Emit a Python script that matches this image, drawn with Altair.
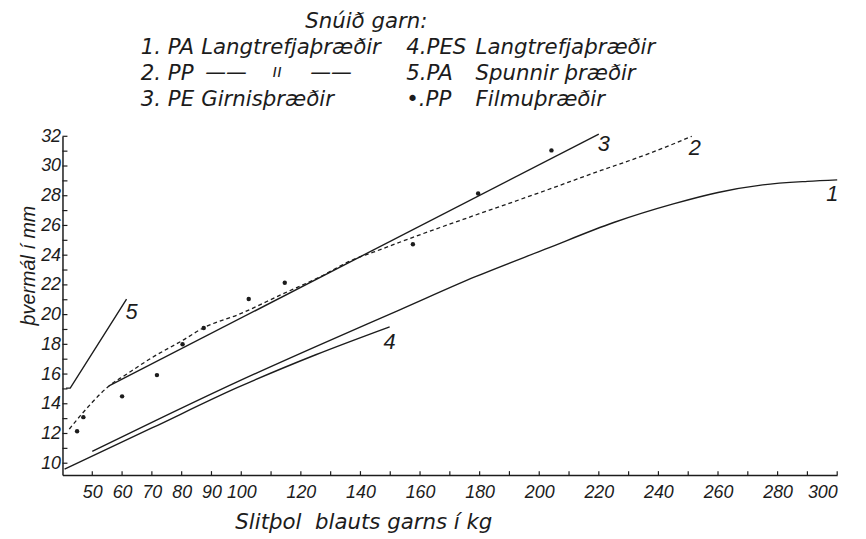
import altair as alt
import pandas as pd

# ---- data ----
l1_x = [50, 70, 98.8, 125, 153, 178.6, 202, 225, 245, 260, 275, 290, 300]
l1_y = [10.8, 12.75, 15.49, 17.85, 20.3, 22.55, 24.4, 26.2, 27.45, 28.22, 28.73, 28.97, 29.07]

l2_x = [42.3, 46, 50, 55.6, 61.2, 70, 80.6, 87.2, 99, 114, 126, 137.6, 144.3, 157.6, 178.6, 200, 220.7, 237, 251.2]
l2_y = [12.3, 13.2, 14.1, 15.2, 15.95, 17.1, 18.3, 19.1, 20.0, 21.4, 22.5, 23.7, 24.2, 25.2, 26.7, 28.2, 29.7, 30.85, 32.0]

l3_x = [55.6, 220]
l3_y = [15.2, 32.15]

l4_x = [40.7, 70, 98.8, 125, 149.8]
l4_y = [9.6, 12.37, 15.1, 17.3, 19.18]

l5_x = [41.2, 42.6, 61.5]
l5_y = [15.05, 15.05, 21.05]

dots_x = [44.9, 47, 60, 71.7, 80.3, 87.4, 102.5, 114.6, 157.6, 179.5, 204.1]
dots_y = [12.15, 13.1, 14.5, 15.93, 18.0, 19.1, 21.05, 22.15, 24.73, 28.15, 31.05]

x_label_values = [50, 60, 70, 80, 90, 100, 120, 140, 160, 180, 200, 220, 240, 260, 280, 300]
x_tick_values = [50, 60, 70, 80, 90, 100, 110, 120, 130, 140, 150, 160, 170, 180, 190,
                 200, 210, 220, 230, 240, 250, 260, 270, 280, 290, 300]
y_label_values = [10, 12, 14, 16, 18, 20, 22, 24, 26, 28, 30, 32]
y_tick_values = [10, 11, 12, 13, 14, 15, 16, 17, 18, 19, 20, 21, 22, 23, 24, 25, 26, 27,
                 28, 29, 30, 31, 32]

series_names = ["1", "2", "3", "4", "5"]

legend_title = "Snúið garn:"
legend_num_col1 = ["1. PA", "2. PP", "3. PE"]
legend_txt_col1 = ["Langtrefjaþræðir", "", "Girnisþræðir"]
legend_num_col2 = ["4.PES", "5.PA", "•.PP"]
legend_txt_col2 = ["Langtrefjaþræðir", "Spunnir þræðir", "Filmuþræðir"]
ditto_parts = ["——", "ıı", "——"]

x_title = "Slitþol\u00a0 blauts garns í kg"
y_title = "þvermál í mm"

# ---- build ----
W, H = 782, 342
INK = "#1c1c1c"
FONT = "DejaVu Sans"
NUMFONT = "Liberation Sans"

xs = alt.Scale(domain=[40, 300], nice=False, zero=False)
ys = alt.Scale(domain=[9.2, 32], nice=False, zero=False)

x_axis = alt.Axis(values=x_label_values, title=x_title, ticks=False, grid=False,
                  labelPadding=9, titleX=174, titleY=54, titleAlign="left",
                  titleBaseline="alphabetic", titleAnchor="start",
                  titleFont=FONT, titleFontSize=21.5)
y_axis = alt.Axis(values=y_label_values, title=y_title, ticks=False, grid=False,
                  labelPadding=2, titleX=-28, titleY=130, titleAlign="center",
                  titleBaseline="alphabetic", titleAngle=270,
                  titleFont=NUMFONT, titleFontSize=20)

def X(field="x"):
    return alt.X(f"{field}:Q", scale=xs, axis=x_axis)

def Y(field="y"):
    return alt.Y(f"{field}:Q", scale=ys, axis=y_axis)

all_x = [l1_x, l2_x, l3_x, l4_x, l5_x]
all_y = [l1_y, l2_y, l3_y, l4_y, l5_y]
rows = []
for name, xx, yy in zip(series_names, all_x, all_y):
    for i, (a, b) in enumerate(zip(xx, yy)):
        rows.append({"s": name, "x": a, "y": b, "o": i})
df = pd.DataFrame(rows)

curves = alt.Chart(df[df.s.isin(["1", "4"])]).mark_line(
    color=INK, strokeWidth=1.4, interpolate="monotone").encode(
    x=X(), y=Y(), detail="s:N", order="o:Q")
straight = alt.Chart(df[df.s.isin(["3", "5"])]).mark_line(
    color=INK, strokeWidth=1.4, interpolate="linear").encode(
    x=X(), y=Y(), detail="s:N", order="o:Q")
dashed = alt.Chart(df[df.s == "2"]).mark_line(color=INK, strokeWidth=1.3, strokeDash=[4, 3],
                                               interpolate="monotone").encode(
    x=X(), y=Y(), order="o:Q")

dots = alt.Chart(pd.DataFrame({"x": dots_x, "y": dots_y})).mark_circle(
    color=INK, size=20, opacity=1).encode(x=X(), y=Y())

yt = alt.Chart(pd.DataFrame({"y": y_tick_values})).mark_rule(color=INK, strokeWidth=1.2).encode(
    y=Y(), x=alt.value(0), x2=alt.value(5))
xt = alt.Chart(pd.DataFrame({"x": x_tick_values})).mark_rule(color=INK, strokeWidth=1.2).encode(
    x=X(), y=alt.value(H), y2=alt.value(H - 4))

# line-end labels
offsets = {"1": (-5, 14), "2": (3, 12), "3": (5, 10), "4": (0, 15), "5": (5, 13)}
labels = []
for name, xx, yy in zip(series_names, all_x, all_y):
    dx, dy = offsets[name]
    labels.append(alt.Chart(pd.DataFrame({"x": [xx[-1]], "y": [yy[-1]], "t": [name]})).mark_text(
        font=NUMFONT, fontStyle="italic", fontSize=22, color=INK, dx=dx, dy=dy,
        align="center", baseline="middle").encode(x=X(), y=Y(), text="t:N"))

def txt(s, px, py, size=21.5):
    return alt.Chart(pd.DataFrame({"t": [s]})).mark_text(
        font=FONT, fontStyle="italic", fontSize=size, color=INK, align="left",
        baseline="alphabetic").encode(x=alt.value(px), y=alt.value(py), text="t:N")

C1, C2 = 79, 347
ROW0, STEP = -83, 26
legend = [txt(legend_title, 245, -109)]
for i in range(3):
    yrow = ROW0 + STEP * i
    legend.append(txt(legend_num_col1[i], C1, yrow))
    if legend_txt_col1[i]:
        legend.append(txt(legend_txt_col1[i], C1 + 61, yrow))
    legend.append(txt(legend_num_col2[i], C2, yrow))
    legend.append(txt(legend_txt_col2[i], C2 + 70, yrow))
# the "——  ıı  ——" of row 2
y2row = ROW0 + STEP
legend.append(txt(ditto_parts[0], 144, y2row - 1, 21))
legend.append(txt(ditto_parts[1], 212, y2row - 3, 17))
legend.append(txt(ditto_parts[2], 250, y2row - 1, 21))

chart = alt.layer(curves, straight, dashed, dots, yt, xt, *labels, *legend).properties(
    width=W, height=H,
    autosize=alt.AutoSizeParams(type="none"),
    padding={"left": 55, "top": 127, "right": 21, "bottom": 62},
    background="white",
).configure_view(stroke=None).configure_axis(
    domainColor=INK, domainWidth=1.5, labelColor=INK, titleColor=INK,
    labelFont=NUMFONT, labelFontStyle="italic", labelFontSize=18,
    titleFontStyle="italic", titleFontWeight="normal",
)

chart.save("out.html", embed_options={"renderer": "svg", "actions": False})
